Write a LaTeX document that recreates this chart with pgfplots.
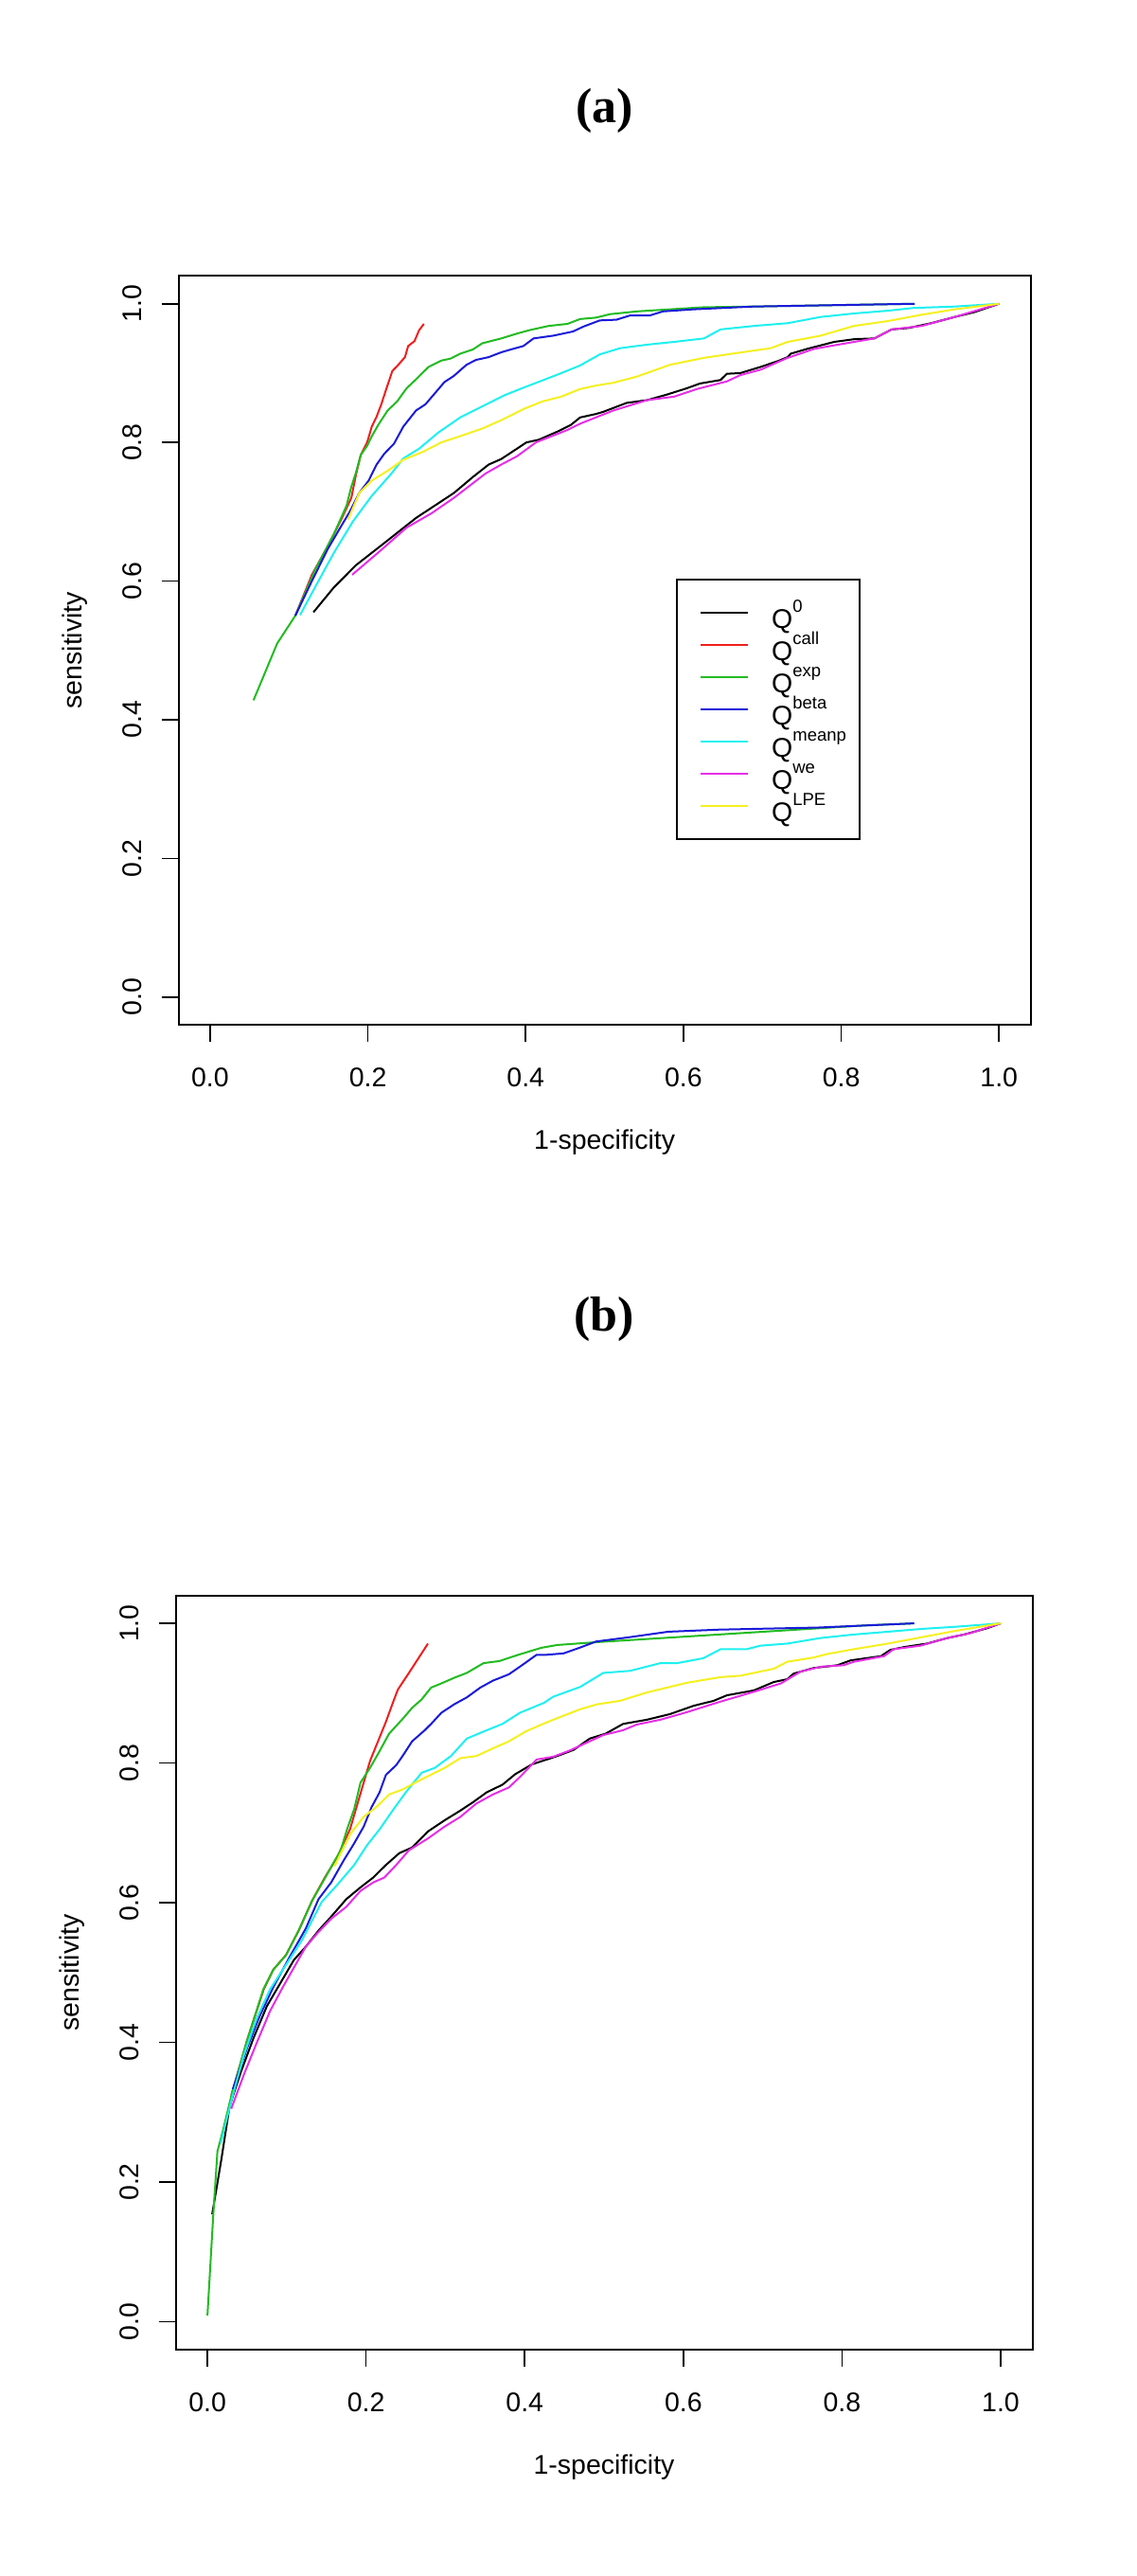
\documentclass[border=0pt]{standalone}
\usepackage{pgfplots}
\pgfplotsset{compat=1.18}
\usepackage{fontspec}
\setmainfont{Liberation Sans}
\newfontfamily\titlefont{Liberation Serif}
\definecolor{rred}{HTML}{F01E1E}
\definecolor{rgreen}{HTML}{22BB22}
\definecolor{rblue}{HTML}{1A1AD9}
\definecolor{rcyan}{HTML}{1EF0F0}
\definecolor{rmag}{HTML}{E62EE6}
\definecolor{ryel}{HTML}{F5F01E}
\newcommand\Qs[1]{Q\raisebox{8.7pt}{\fontsize{9.25}{9.25}\selectfont #1}}
\pgfplotsset{
  roc/.style={
    scale only axis,
    xmin=-0.04, xmax=1.04, ymin=-0.04, ymax=1.04,
    xtick={0,0.2,0.4,0.6,0.8,1}, xticklabels={0.0,0.2,0.4,0.6,0.8,1.0},
    ytick={0,0.2,0.4,0.6,0.8,1}, yticklabels={0.0,0.2,0.4,0.6,0.8,1.0},
    tick pos=left, tick align=outside, major tick length=9pt,
    every tick/.style={black, line width=0.8pt},
    axis line style={line width=1pt},
    ticklabel style={font=\fontsize{14.25}{14.25}\selectfont},
    xticklabel style={anchor=north, inner sep=0pt},
    yticklabel style={rotate=90, anchor=south, inner sep=0pt},
    xticklabel shift=13.5pt, yticklabel shift=10.3pt,
    xlabel={1-specificity}, ylabel={sensitivity},
    label style={font=\fontsize{14.25}{14.25}\selectfont},
    title style={font=\titlefont\bfseries\fontsize{26}{26}\selectfont, anchor=center},
    every axis plot/.append style={line width=1pt, mark=none},
  }
}
\begin{document}
\begin{tikzpicture}
\path[use as bounding box] (0,0) rectangle (600pt,1360pt);
% ---------------- panel (a)
\begin{axis}[roc, at={(94.3pt,819pt)}, anchor=south west,
  width=450pt, height=395.25pt,
  title={(a)}, title style={at={(axis description cs:0.5,1.205)}},
  xlabel style={at={(axis description cs:0.5,-0.1569)}, anchor=center},
  ylabel style={at={(axis description cs:-0.1218,0.5)}, anchor=center},
  legend style={at={(0.5841,0.5958)}, anchor=north west, draw=black, line width=0.9pt,
    inner xsep=7pt, inner ysep=9pt, row sep=0pt,
    nodes={inner sep=0pt, text height=17pt, text depth=0pt, font=\fontsize{14.25}{14.25}\selectfont}},
  legend cell align=left,
  legend image code/.code={\path[draw=none,fill=none] (0pt,-8.5pt) rectangle (43pt,8.5pt); \draw[#1] (5.5pt,0.2pt) -- (30.5pt,0.2pt);},
]
\addplot[black] table {
x y
0.131 0.555
0.157 0.591
0.185 0.623
0.221 0.655
0.261 0.691
0.309 0.727
0.333 0.750
0.353 0.768
0.369 0.776
0.385 0.788
0.401 0.800
0.417 0.804
0.441 0.816
0.457 0.825
0.469 0.836
0.489 0.841
0.498 0.844
0.528 0.857
0.554 0.861
0.579 0.869
0.604 0.878
0.621 0.885
0.647 0.890
0.655 0.899
0.672 0.900
0.698 0.909
0.719 0.917
0.732 0.923
0.736 0.928
0.757 0.935
0.791 0.945
0.817 0.949
0.842 0.950
0.864 0.963
0.885 0.965
0.914 0.972
0.944 0.981
0.969 0.988
1.000 1.000
};
\addlegendentry{\Qs{0}}
\addplot[rred] table {
x y
0.108 0.550
0.129 0.609
0.149 0.650
0.165 0.686
0.179 0.720
0.185 0.754
0.191 0.782
0.199 0.800
0.205 0.823
0.211 0.837
0.217 0.855
0.223 0.876
0.231 0.903
0.237 0.910
0.247 0.923
0.251 0.939
0.259 0.946
0.265 0.962
0.271 0.971
};
\addlegendentry{\Qs{call}}
\addplot[rgreen] table {
x y
0.055 0.428
0.085 0.510
0.108 0.550
0.133 0.616
0.157 0.668
0.173 0.709
0.179 0.736
0.185 0.757
0.191 0.782
0.199 0.795
0.205 0.809
0.213 0.825
0.225 0.846
0.237 0.859
0.249 0.878
0.261 0.891
0.269 0.900
0.277 0.909
0.293 0.918
0.305 0.921
0.317 0.928
0.333 0.934
0.345 0.943
0.369 0.950
0.389 0.957
0.405 0.962
0.429 0.968
0.453 0.971
0.469 0.978
0.489 0.980
0.507 0.985
0.541 0.989
0.583 0.992
0.626 0.995
0.689 0.996
0.893 1.000
};
\addlegendentry{\Qs{exp}}
\addplot[rblue] table {
x y
0.108 0.550
0.129 0.600
0.149 0.646
0.165 0.677
0.177 0.700
0.189 0.727
0.201 0.745
0.211 0.768
0.221 0.784
0.233 0.798
0.245 0.823
0.261 0.846
0.273 0.855
0.285 0.871
0.297 0.887
0.309 0.896
0.325 0.912
0.337 0.919
0.353 0.923
0.369 0.930
0.381 0.934
0.397 0.939
0.410 0.950
0.435 0.954
0.460 0.960
0.473 0.967
0.494 0.976
0.515 0.977
0.532 0.983
0.557 0.983
0.574 0.989
0.613 0.992
0.689 0.996
0.893 1.000
};
\addlegendentry{\Qs{beta}}
\addplot[rcyan] table {
x y
0.114 0.551
0.133 0.591
0.157 0.641
0.181 0.686
0.205 0.723
0.229 0.754
0.245 0.777
0.265 0.791
0.289 0.814
0.317 0.836
0.345 0.852
0.373 0.868
0.395 0.878
0.418 0.888
0.443 0.899
0.469 0.911
0.494 0.927
0.520 0.936
0.554 0.941
0.588 0.945
0.626 0.950
0.647 0.963
0.689 0.968
0.732 0.972
0.774 0.981
0.816 0.986
0.859 0.990
0.892 0.994
0.944 0.996
1.000 1.000
};
\addlegendentry{\Qs{meanp}}
\addplot[rmag] table {
x y
0.180 0.609
0.213 0.641
0.249 0.677
0.281 0.698
0.309 0.720
0.333 0.741
0.349 0.755
0.369 0.768
0.389 0.780
0.413 0.800
0.433 0.809
0.453 0.818
0.469 0.827
0.489 0.836
0.511 0.846
0.554 0.861
0.588 0.866
0.617 0.877
0.655 0.888
0.672 0.897
0.698 0.905
0.732 0.922
0.766 0.935
0.791 0.940
0.842 0.950
0.864 0.963
0.902 0.968
0.944 0.981
1.000 1.000
};
\addlegendentry{\Qs{we}}
\addplot[ryel] table {
x y
0.175 0.689
0.189 0.727
0.205 0.745
0.225 0.759
0.245 0.775
0.269 0.786
0.293 0.800
0.317 0.809
0.345 0.820
0.369 0.832
0.397 0.848
0.421 0.859
0.445 0.866
0.469 0.877
0.489 0.882
0.511 0.886
0.541 0.895
0.583 0.912
0.626 0.922
0.668 0.929
0.711 0.936
0.732 0.945
0.774 0.954
0.816 0.968
0.859 0.975
0.901 0.984
0.944 0.992
1.000 1.000
};
\addlegendentry{\Qs{LPE}}
\end{axis}
% ---------------- panel (b)
\begin{axis}[roc, at={(92.8pt,119.5pt)}, anchor=south west,
  width=452.45pt, height=398.2pt,
  title={(b)}, title style={at={(axis description cs:0.5,1.351)}},
  xlabel style={at={(axis description cs:0.5,-0.1557)}, anchor=center},
  ylabel style={at={(axis description cs:-0.1211,0.5)}, anchor=center},
]
\addplot[black] table {
x y
0.006 0.154
0.0175 0.232
0.028 0.309
0.042 0.357
0.058 0.406
0.075 0.452
0.091 0.483
0.109 0.518
0.124 0.537
0.140 0.560
0.156 0.580
0.175 0.605
0.193 0.622
0.209 0.636
0.225 0.654
0.242 0.671
0.258 0.679
0.278 0.702
0.299 0.718
0.319 0.732
0.335 0.744
0.352 0.758
0.372 0.769
0.388 0.784
0.409 0.798
0.425 0.804
0.441 0.810
0.462 0.819
0.482 0.835
0.502 0.842
0.524 0.856
0.554 0.862
0.583 0.870
0.613 0.882
0.638 0.889
0.655 0.897
0.689 0.904
0.714 0.916
0.731 0.920
0.739 0.928
0.764 0.936
0.794 0.940
0.811 0.947
0.849 0.953
0.861 0.962
0.878 0.966
0.907 0.971
0.933 0.979
0.954 0.984
0.983 0.993
1.000 1.000
};
\addplot[rred] table {
x y
0.030 0.324
0.050 0.403
0.071 0.476
0.083 0.504
0.099 0.525
0.115 0.560
0.132 0.603
0.148 0.636
0.164 0.666
0.180 0.706
0.189 0.741
0.197 0.772
0.205 0.803
0.215 0.831
0.225 0.859
0.234 0.887
0.240 0.905
0.254 0.929
0.262 0.943
0.270 0.957
0.278 0.971
};
\addplot[rgreen] table {
x y
0.000 0.009
0.0073 0.152
0.0126 0.244
0.0196 0.274
0.030 0.323
0.050 0.403
0.0705 0.476
0.083 0.504
0.099 0.525
0.115 0.560
0.132 0.603
0.152 0.643
0.168 0.675
0.176 0.705
0.185 0.734
0.193 0.772
0.205 0.793
0.217 0.817
0.229 0.842
0.246 0.863
0.258 0.879
0.270 0.891
0.282 0.908
0.295 0.914
0.311 0.922
0.327 0.929
0.348 0.943
0.368 0.946
0.392 0.955
0.421 0.965
0.441 0.969
0.490 0.973
0.828 0.997
0.891 1.000
};
\addplot[rblue] table {
x y
0.032 0.333
0.050 0.392
0.066 0.438
0.083 0.479
0.103 0.521
0.124 0.563
0.140 0.605
0.156 0.629
0.172 0.661
0.185 0.685
0.197 0.709
0.207 0.737
0.217 0.758
0.225 0.783
0.238 0.797
0.246 0.810
0.258 0.831
0.274 0.847
0.282 0.856
0.295 0.872
0.311 0.884
0.327 0.894
0.344 0.908
0.360 0.918
0.380 0.927
0.394 0.938
0.415 0.955
0.428 0.955
0.449 0.957
0.469 0.965
0.490 0.974
0.531 0.980
0.581 0.988
0.645 0.991
0.770 0.994
0.891 1.000
};
\addplot[rcyan] table {
x y
0.0167 0.256
0.030 0.316
0.046 0.382
0.062 0.434
0.079 0.476
0.099 0.511
0.119 0.546
0.144 0.601
0.164 0.626
0.185 0.654
0.201 0.682
0.217 0.705
0.2335 0.732
0.250 0.758
0.270 0.786
0.2865 0.793
0.307 0.810
0.327 0.835
0.348 0.845
0.372 0.856
0.394 0.872
0.424 0.886
0.436 0.895
0.470 0.909
0.499 0.929
0.533 0.932
0.571 0.943
0.592 0.943
0.625 0.950
0.647 0.963
0.680 0.963
0.697 0.968
0.731 0.971
0.773 0.979
0.815 0.984
0.858 0.988
0.900 0.992
0.942 0.995
1.000 1.000
};
\addplot[rmag] table {
x y
0.030 0.305
0.046 0.354
0.062 0.399
0.079 0.445
0.095 0.479
0.111 0.511
0.124 0.537
0.140 0.558
0.156 0.577
0.175 0.594
0.193 0.617
0.209 0.629
0.223 0.636
0.238 0.654
0.254 0.675
0.278 0.692
0.299 0.709
0.319 0.723
0.339 0.742
0.360 0.755
0.380 0.765
0.394 0.780
0.415 0.805
0.436 0.809
0.457 0.818
0.478 0.829
0.499 0.840
0.524 0.847
0.541 0.855
0.571 0.862
0.605 0.873
0.647 0.888
0.689 0.902
0.723 0.914
0.748 0.931
0.774 0.938
0.802 0.940
0.815 0.945
0.853 0.953
0.865 0.963
0.899 0.968
0.933 0.979
0.962 0.986
1.000 1.000
};
\addplot[ryel] table {
x y
0.160 0.652
0.1805 0.699
0.197 0.723
0.213 0.737
0.229 0.755
0.246 0.762
0.262 0.772
0.278 0.781
0.299 0.793
0.319 0.807
0.339 0.810
0.360 0.821
0.380 0.831
0.401 0.845
0.419 0.854
0.436 0.862
0.470 0.877
0.491 0.884
0.520 0.889
0.554 0.901
0.605 0.915
0.647 0.923
0.672 0.925
0.714 0.935
0.731 0.945
0.764 0.951
0.781 0.956
0.815 0.963
0.858 0.971
0.900 0.980
0.942 0.989
1.000 1.000
};
\end{axis}
\end{tikzpicture}
\end{document}
